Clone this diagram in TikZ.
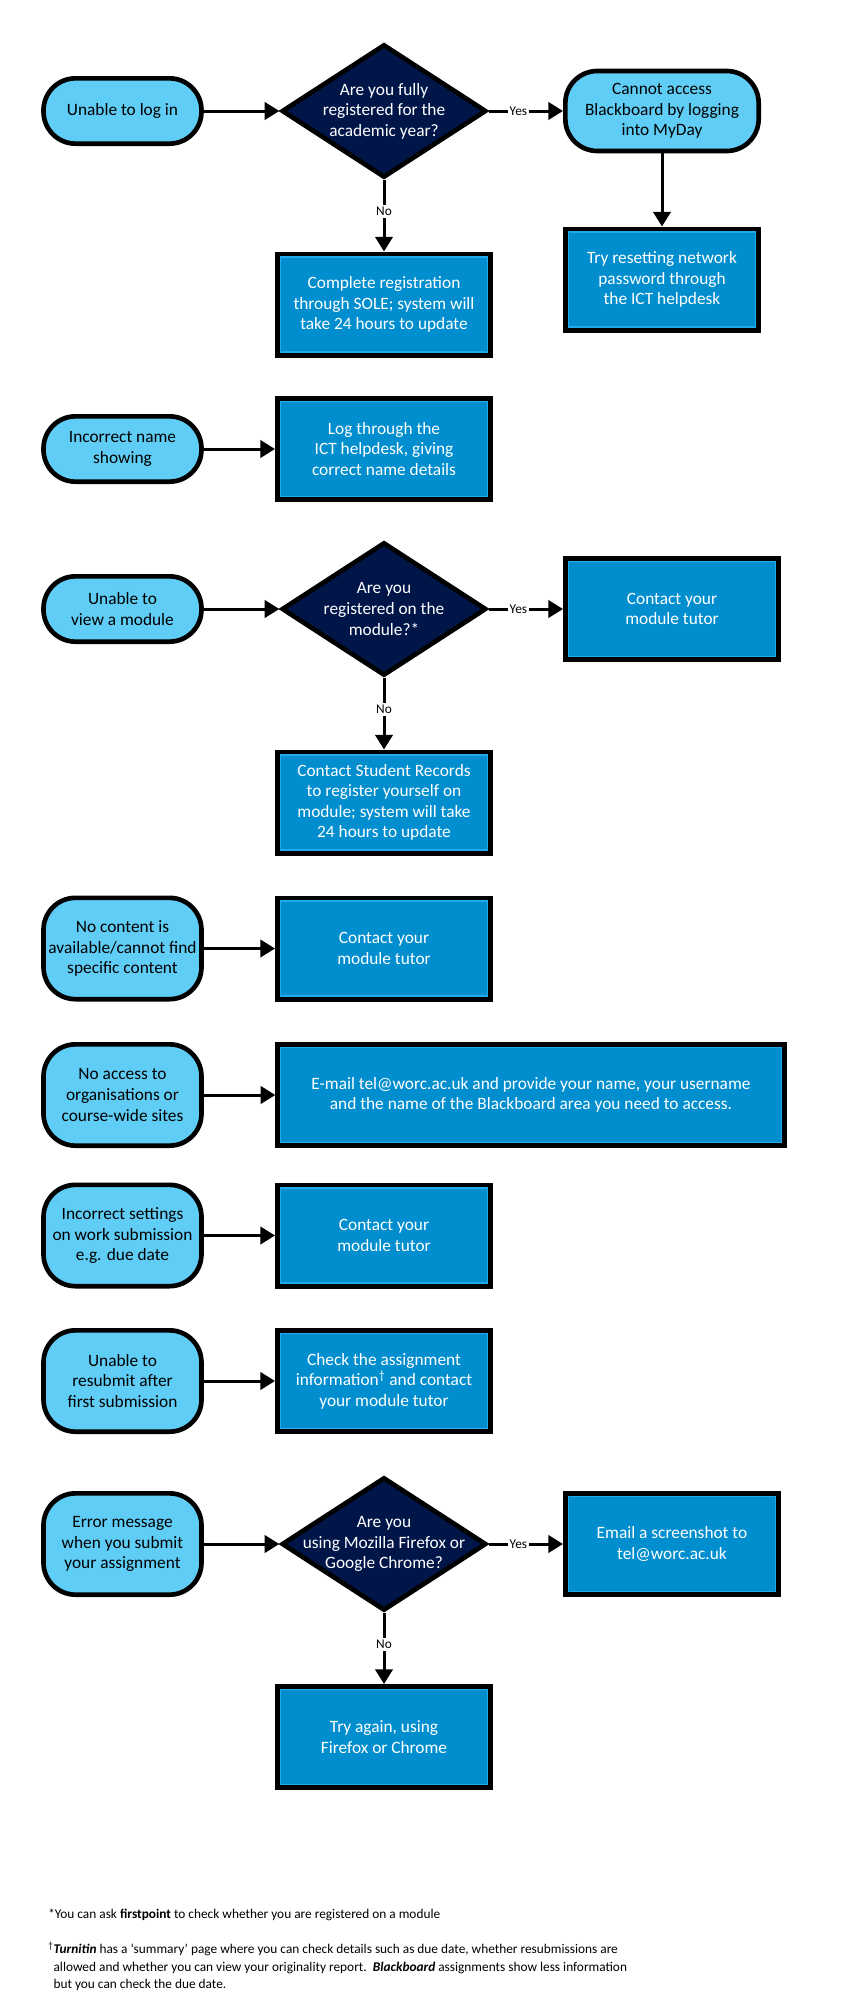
\documentclass[tikz,border=0pt]{standalone}
\usepackage{fontspec}
\setmainfont{Carlito}
\usepackage{tikz}
\usetikzlibrary{arrows.meta,shapes.geometric}

\definecolor{issueblue}{RGB}{95,205,245}
\definecolor{actionblue}{RGB}{0,142,207}
\definecolor{actionedge}{RGB}{35,170,238}
\definecolor{questionnavy}{RGB}{0,21,72}

\begin{document}
\begin{tikzpicture}[x=0.75pt, y=-0.75pt]

	\tikzstyle{issue_node}=[rectangle, rounded corners=24pt, fill=issueblue, draw=black, line width=3.5pt, align=center, minimum width=118.5pt, minimum height=49pt, font=\fontsize{13}{15.4}\selectfont]
	\tikzstyle{tall_issue_node}=[issue_node, minimum height=76pt]
	\tikzstyle{action_node}=[rectangle, fill=actionblue, draw=black, line width=3.5pt, text=white, align=center, minimum width=160pt, minimum height=76pt, font=\fontsize{13}{15.4}\selectfont, path picture={\draw[actionedge, line width=1.1pt] ([shift={(2.3pt,2.3pt)}]path picture bounding box.south west) rectangle ([shift={(-2.3pt,-2.3pt)}]path picture bounding box.north east);}]
	\tikzstyle{question_node}=[diamond, fill=questionnavy, draw=black, line width=3.5pt, minimum width=153.5pt, minimum height=100pt, inner sep=0pt]
	\tikzstyle{question_text}=[text=white, align=center, font=\fontsize{13}{15.4}\selectfont]
	\tikzstyle{flow_arrow}=[-{Triangle[length=11pt,width=13pt]}, line width=2.25pt]
	\tikzstyle{answer_label}=[fill=white, inner sep=1.5pt, font=\fontsize{10}{12}\selectfont]
	\tikzstyle{note_text}=[anchor=west, align=left, inner sep=0pt, font=\fontsize{10}{13.1}\selectfont]

	\useasboundingbox (0, 0) rectangle (850, 2003);

	%Problem nodes
	\node[issue_node] at (122.5, 111) (login) {Unable to log in};
	\node[issue_node] at (122.5, 449) (wrong_name) {Incorrect name\\showing};
	\node[issue_node] at (122.5, 609) (view_module) {Unable to\\view a module};
	\node[tall_issue_node] at (122.5, 948.5) (no_content) {No content is\\available/cannot find\\specific content};
	\node[tall_issue_node] at (122.5, 1095) (no_access) {No access to\\organisations or\\course-wide sites};
	\node[tall_issue_node] at (122.5, 1235.5) (settings) {Incorrect settings\\on work submission\\e.g. due date};
	\node[tall_issue_node] at (122.5, 1381) (resubmit) {Unable to\\resubmit after\\first submission};
	\node[tall_issue_node] at (122.5, 1544) (error_msg) {Error message\\when you submit\\your assignment};
	\node[issue_node, minimum width=145pt, minimum height=60pt] at (662, 111) (myday) {Cannot access\\Blackboard by logging\\into MyDay};

	% Questions
	\node[question_node, label={[question_text]center:Are you fully\\registered for the\\academic year?}] at (384, 111) (registered) {};
	\node[question_node, label={[question_text]center:Are you\\registered on the\\module?*}] at (384, 609) (on_module) {};
	\node[question_node, label={[question_text]center:Are you\\using Mozilla Firefox or\\Google Chrome?}] at (384, 1544) (browser) {};

	% Actions
	\node[action_node] at (384, 304.5) (complete_reg) {Complete registration\\through SOLE; system will\\take 24 hours to update};
	\node[action_node, minimum width=145pt] at (662, 279.5) (reset_pw) {Try resetting network\\password through\\the ICT helpdesk};
	\node[action_node] at (384, 449) (log_name) {Log through the\\ICT helpdesk, giving\\correct name details};
	\node[action_node] at (672, 609) (tutor_a) {Contact your\\module tutor};
	\node[action_node] at (384, 802.5) (student_records) {Contact Student Records\\to register yourself on\\module; system will take\\24 hours to update};
	\node[action_node] at (384, 948.5) (tutor_b) {Contact your\\module tutor};
	\node[action_node, minimum width=380pt] at (531, 1095) (email_area) {E-mail tel@worc.ac.uk and provide your name, your username\\and the name of the Blackboard area you need to access.};
	\node[action_node] at (384, 1235.5) (tutor_c) {Contact your\\module tutor};
	\node[action_node] at (384, 1381) (check_info) {Check the assignment\\information\textsuperscript{\textdagger} and contact\\your module tutor};
	\node[action_node] at (672, 1544) (screenshot) {Email a screenshot to\\tel@worc.ac.uk};
	\node[action_node] at (384, 1737) (try_again) {Try again, using\\Firefox or Chrome};

	% Connections
	\draw[flow_arrow] (login) -- (registered);
	\draw[flow_arrow] (registered) -- node[answer_label, pos=0.4] {Yes} (myday);
	\draw[flow_arrow] (registered) -- node[answer_label, pos=0.44] {No} (complete_reg);
	\draw[flow_arrow] (myday) -- (reset_pw);

	\draw[flow_arrow] (wrong_name) -- (log_name);

	\draw[flow_arrow] (view_module) -- (on_module);
	\draw[flow_arrow] (on_module) -- node[answer_label, pos=0.4] {Yes} (tutor_a);
	\draw[flow_arrow] (on_module) -- node[answer_label, pos=0.44] {No} (student_records);

	\draw[flow_arrow] (no_content) -- (tutor_b);
	\draw[flow_arrow] (no_access) -- (email_area);
	\draw[flow_arrow] (settings) -- (tutor_c);
	\draw[flow_arrow] (resubmit) -- (check_info);

	\draw[flow_arrow] (error_msg) -- (browser);
	\draw[flow_arrow] (browser) -- node[answer_label, pos=0.4] {Yes} (screenshot);
	\draw[flow_arrow] (browser) -- node[answer_label, pos=0.44] {No} (try_again);

	% Text nodes
	\node[note_text] at (48, 1915) (note_star) {*You can ask \textbf{firstpoint} to check whether you are registered on a module};
	\node[note_text] at (48, 1966.5) (note_dagger) {\textsuperscript{\textdagger}\textbf{\textit{Turnitin}} has a `summary' page where you can check details such as due date, whether resubmissions are\\\hphantom{\textsuperscript{\textdagger}}allowed and whether you can view your originality report.\ \ \textbf{\textit{Blackboard}} assignments show less information\\\hphantom{\textsuperscript{\textdagger}}but you can check the due date.};

\end{tikzpicture}
\end{document}
